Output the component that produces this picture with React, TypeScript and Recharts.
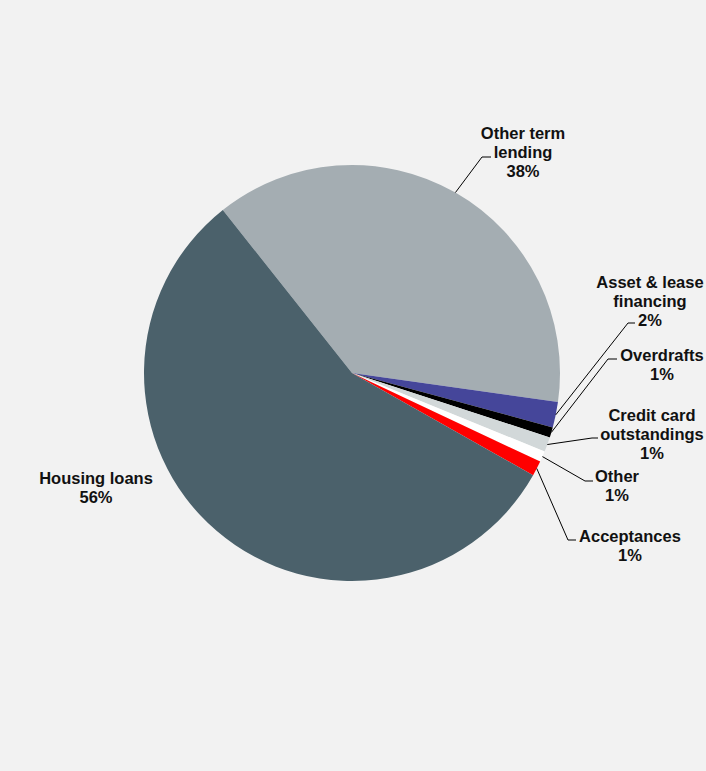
import { PieChart, Pie, Cell } from "recharts";

// slices in clockwise order, starting at the upper-left edge of "Other term lending"
const categories = [
  "Other term lending",
  "Asset & lease financing",
  "Overdrafts",
  "Credit card outstandings",
  "Other",
  "Acceptances",
  "Housing loans",
];
const shares = [37.9, 1.98, 0.8, 1.15, 0.84, 1.18, 56.15];
const colors = ["#a4adb2", "#45469a", "#000000", "#d2d8d9", "#ffffff", "#ff0000", "#4b616b"];

// label text, split over lines (percent line is added from the data)
const labelLines = [
  ["Other term", "lending"],
  ["Asset & lease", "financing"],
  ["Overdrafts"],
  ["Credit card", "outstandings"],
  ["Other"],
  ["Acceptances"],
  ["Housing loans"],
];

// label layout, offsets from the pie centre: elbow of the leader, end of its
// horizontal run, text centre x and first line centre y
const labelLayout = [
  { ex: 130, ey: -216, hx: 139, tx: 171, ty: -240 },
  { ex: 276, ey: -50, hx: 283, tx: 298, ty: -91 },
  { ex: 256, ey: -14, hx: 265, tx: 310, ty: -18 },
  { ex: 240, ey: 65, hx: 246, tx: 300, ty: 42 },
  { ex: 233, ey: 108, hx: 241, tx: 265, ty: 103 },
  { ex: 216, ey: 167, hx: 224, tx: 278, ty: 163 },
  { ex: null, ey: null, hx: null, tx: -256, ty: 105 },
];

const data = categories.map((name, i) => ({ name, value: shares[i] }));

const RAD = Math.PI / 180;
const LINE_H = 19;

function renderLabel(props: any) {
  const { cx, cy, midAngle, outerRadius, percent, index } = props;
  const lay = labelLayout[index];
  const lines = [...labelLines[index], `${Math.round(percent * 100)}%`];
  const sx = cx + outerRadius * Math.cos(-midAngle * RAD);
  const sy = cy + outerRadius * Math.sin(-midAngle * RAD);
  return (
    <g key={`lbl-${index}`}>
      {lay.ex !== null && (
        <polyline
          points={`${sx},${sy} ${cx + lay.ex},${cy + lay.ey} ${cx + lay.hx},${cy + lay.ey}`}
          fill="none"
          stroke="#000"
          strokeWidth={1}
        />
      )}
      <text
        textAnchor="middle"
        fontFamily="'Liberation Sans', Arial, sans-serif"
        fontWeight="bold"
        fontSize={16.5}
        fill="#111"
      >
        {lines.map((t, j) => (
          <tspan key={j} x={cx + lay.tx} y={cy + lay.ty + j * LINE_H + 6}>
            {t}
          </tspan>
        ))}
      </text>
    </g>
  );
}

export default function App() {
  return (
    <div
      style={{
        position: "absolute",
        left: 0,
        top: 0,
        width: 706,
        height: 771,
        background: "#f2f2f2",
      }}
    >
      <PieChart width={706} height={771} margin={{ top: 0, right: 0, bottom: 0, left: 0 }}>
        <Pie
          data={data}
          dataKey="value"
          nameKey="name"
          cx={352}
          cy={373}
          outerRadius={208}
          startAngle={128.4}
          endAngle={-231.6}
          stroke="none"
          label={renderLabel}
          labelLine={false}
          isAnimationActive={false}
        >
          {data.map((d, i) => (
            <Cell key={d.name} fill={colors[i]} />
          ))}
        </Pie>
      </PieChart>
    </div>
  );
}
